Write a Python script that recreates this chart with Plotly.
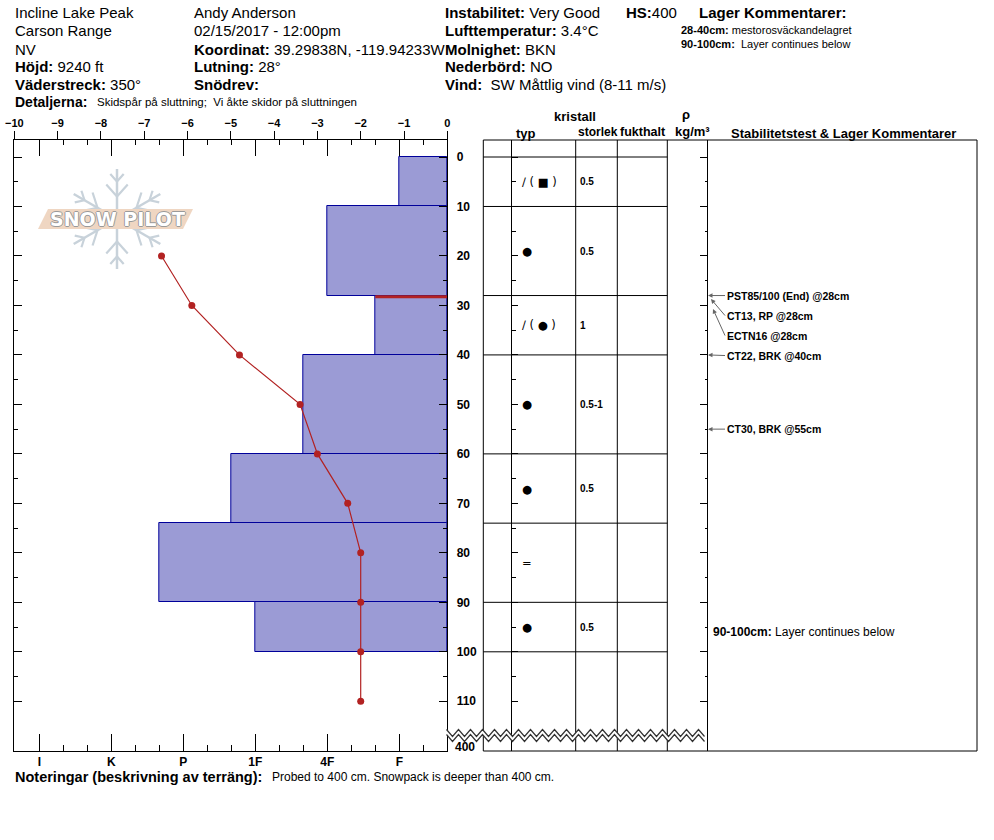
import math
import plotly.graph_objects as go

W, H = 994, 840
FONT = "Liberation Sans, Arial, sans-serif"

# ---------------- data ----------------
layer_top = [0, 10, 28, 40, 60, 74, 90]
layer_bottom = [10, 28, 40, 60, 74, 90, 100]
layer_hardness = ["F", "4F", "F+", "4F+", "1F+", "P+", "1F"]
grain_type = ["∕ ( ■ )", "●", "∕ ( ● )", "●", "●", "=", "●"]
grain_size = ["0.5", "0.5", "1", "0.5-1", "0.5", "", "0.5"]

temp_depth = [20, 30, 40, 50, 60, 70, 80, 90, 100, 110]
temp_value = [-6.6, -5.9, -4.8, -3.4, -3.0, -2.3, -2.0, -2.0, -2.0, -2.0]

concern_depth = 28

test_labels = ["PST85/100 (End) @28cm", "CT13, RP @28cm", "ECTN16 @28cm",
               "CT22, BRK @40cm", "CT30, BRK @55cm"]
test_depths = [28, 28, 28, 40, 55]

temp_ticks = [-10, -9, -8, -7, -6, -5, -4, -3, -2, -1, 0]
hard_labels = ["I", "K", "P", "1F", "4F", "F"]
hard_scale = ["I+", "I", "I-", "K+", "K", "K-", "P+", "P", "P-", "1F+", "1F", "1F-",
              "4F+", "4F", "4F-", "F+", "F", "F-"]
depth_ticks = [0, 10, 20, 30, 40, 50, 60, 70, 80, 90, 100, 110]
depth_minor = [5, 15, 25, 35, 45, 55, 65, 75, 85, 95, 105]
total_depth_label = "400"

# hardness code -> index (F- = 1 ... I+ = 18)
HIDX = {c: len(hard_scale) - i for i, c in enumerate(hard_scale)}
hard_major_vals = [HIDX[c] for c in hard_labels]
hard_minor_vals = [HIDX[c] for c in hard_scale if c not in hard_labels and HIDX[c] < 18]


def X(px):
    return px / W


def Y(py):
    return 1 - py / H


# geometry (pixels)
PL, PR = 14.3, 447.3
PT, PB = 140.0, 751.0
D0, PXCM = 157.0, 4.948
yr = [(PB - D0) / PXCM, (PT - D0) / PXCM]
hr = [(PR - PL) / 24.0, 0]
dom_x = [X(PL), X(PR)]
dom_y = [Y(PB), Y(PT)]

fig = go.Figure()

# dummy traces to register all axes
for xa, ya in [("x3", "y"), ("x", "y2"), ("x", "y3"), ("x", "y4")]:
    fig.add_trace(go.Scatter(x=[None], y=[None], xaxis=xa, yaxis=ya,
                             showlegend=False, hoverinfo="skip"))

centers = [(a + b) / 2 for a, b in zip(layer_top, layer_bottom)]
thick = [b - a for a, b in zip(layer_top, layer_bottom)]
fig.add_trace(go.Bar(
    x=[HIDX[h] for h in layer_hardness], y=centers, width=thick, orientation="h",
    marker=dict(color="#9b9bd5", line=dict(color="#00009a", width=1)),
    xaxis="x", yaxis="y", showlegend=False, hoverinfo="skip"))

ci = layer_top.index(concern_depth)
fig.add_trace(go.Scatter(
    x=[0, HIDX[layer_hardness[ci]]], y=[concern_depth + 0.25, concern_depth + 0.25],
    mode="lines", line=dict(color="#b22222", width=3),
    xaxis="x", yaxis="y", showlegend=False, hoverinfo="skip"))

fig.add_trace(go.Scatter(
    x=temp_value, y=temp_depth, mode="lines+markers",
    line=dict(color="#b22222", width=1.2), marker=dict(color="#b22222", size=7),
    xaxis="x2", yaxis="y", showlegend=False, hoverinfo="skip"))

shapes = []
ann = []


def note(x, y, text, size=15, xanchor="left", yanchor="middle", yref="paper", family=FONT, **kw):
    ann.append(dict(x=X(x), y=(Y(y) if yref == "paper" else y), xref="paper", yref=yref,
                    text=text, showarrow=False, xanchor=xanchor, yanchor=yanchor,
                    font=dict(size=size, color="black", family=family), **kw))


def line(x0, y0, x1, y1, color="black", width=1, yref="paper", layer="above"):
    shapes.append(dict(type="line", xref="paper", yref=yref,
                       x0=X(x0), x1=X(x1),
                       y0=(Y(y0) if yref == "paper" else y0),
                       y1=(Y(y1) if yref == "paper" else y1),
                       line=dict(color=color, width=width), layer=layer))


# ---------------- logo ----------------
cx, cy, L = 117, 219, 50
flake = "#c8d2da"
for ang in [90, 30, -30, -90, -150, 150]:
    ux, uy = math.cos(math.radians(ang)), -math.sin(math.radians(ang))
    line(cx + ux * 5, cy + uy * 5, cx + ux * L, cy + uy * L, flake, 2.5, layer="below")
    for d, b in [(0.45, 16), (0.75, 10)]:
        px, py = cx + ux * L * d, cy + uy * L * d
        for s in (1, -1):
            a2 = math.radians(ang + s * 42)
            line(px, py, px + math.cos(a2) * b, py - math.sin(a2) * b, flake, 2.2, layer="below")
shapes.append(dict(type="path", xref="paper", yref="paper", layer="below",
                   path="M %f %f L %f %f L %f %f L %f %f Z" % (
                       X(38), Y(229), X(48), Y(209), X(193), Y(209), X(183), Y(229)),
                   fillcolor="#efd6c2", line=dict(width=0)))
ann.append(dict(x=X(117), y=Y(219.5), xref="paper", yref="paper", text="SNOW PILOT",
                showarrow=False, xanchor="center", yanchor="middle",
                font=dict(size=19, color="white", family="DejaVu Sans", weight="bold",
                          shadow="1px 0 0 #9a9a9a, -1px 0 0 #9a9a9a, 0 1px 0 #9a9a9a, 0 -1px 0 #9a9a9a")))

# ---------------- header ----------------
col1 = ["Incline Lake Peak", "Carson Range", "NV", "<b>Höjd:</b> 9240 ft", "<b>Väderstreck:</b> 350°"]
col2 = ["Andy Anderson", "02/15/2017 - 12:00pm", "<b>Koordinat:</b> 39.29838N, -119.94233W",
        "<b>Lutning:</b> 28°", "<b>Snödrev:</b>"]
col3 = ["<b>Instabilitet:</b> Very Good", "<b>Lufttemperatur:</b> 3.4°C", "<b>Molnighet:</b> BKN",
        "<b>Nederbörd:</b> NO", "<b>Vind:</b>  SW Måttlig vind (8-11 m/s)"]
for i in range(5):
    yy = 13 + 18 * i
    note(13, yy, col1[i])
    note(192, yy, col2[i])
    note(443, yy, col3[i])
note(624, 13, "<b>HS:</b>400")
note(697, 13, "<b>Lager Kommentarer:</b>")
note(679, 30, "<b>28-40cm:</b> mestorosväckandelagret", size=11)
note(679, 44, "<b>90-100cm:</b>  Layer continues below", size=11)
note(13, 102, "<b>Detaljerna:</b>", size=14)
note(95, 102, "Skidspår på sluttning;  Vi åkte skidor på sluttningen", size=11.5)

# table header
note(575, 117, "<b>kristall</b>", size=13, xanchor="center")
note(526, 133, "<b>typ</b>", size=13, xanchor="center")
note(577, 132, "<b>storlek</b>", size=12, borderpad=0)
note(619, 132, "<b>fukthalt</b>", size=12.5, borderpad=0)
note(686, 115, "<b>ρ</b>", size=13, xanchor="center")
note(692, 131, "<b>kg/m³</b>", size=13, xanchor="center")
note(843, 133, "<b>Stabilitetstest &amp; Lager Kommentarer</b>", size=13, xanchor="center")

# ---------------- table ----------------
TL, TR = 483.3, 977.0
for cxp in [TL, 575.7, 617.3, 667.3, TR]:
    line(cxp, PT, cxp, PB)
line(TL, PT, TR, PT)
line(TL, PB, TR, PB)
for d in sorted(set(layer_top + layer_bottom)):
    line(TL, d, 667.3, d, yref="y")
for i, c in enumerate(centers):
    note(520, c, grain_type[i], size=11.5, yref="y", family="DejaVu Sans")
    if grain_size[i]:
        note(578, c, "<b>%s</b>" % grain_size[i], size=10, yref="y")

# stability tests
head_dx = [0, 3, 5, 0, 0]
head_dy = [0, 3.5, 13.5, 0, 0]
prev = -100
for i, (lab, dep) in enumerate(zip(test_labels, test_depths)):
    dpx = D0 + dep * PXCM
    ty = max(dpx, prev + 20)
    prev = ty
    hx = 708 + head_dx[i]
    hy = dpx + head_dy[i]
    ann.append(dict(x=X(hx), y=dep, xref="paper", yref="y", yshift=-head_dy[i],
                    ax=725 - hx, ay=ty - hy, axref="pixel", ayref="pixel",
                    text="<b>%s</b>" % lab, showarrow=True, arrowhead=2, arrowsize=0.9,
                    arrowwidth=1, arrowcolor="#666666", xanchor="left", yanchor="middle",
                    font=dict(size=10.5, color="black", family=FONT)))
note(711, 95, "<b>90-100cm:</b> Layer continues below", size=12, yref="y", yshift=-5)

# depth "400" label
note(465, 747, "<b>%s</b>" % total_depth_label, size=12, xanchor="center")

# zigzag break
zx0, zx1, zy, amp, per, gap = 446.5, 707.3, 729.5, 7.0, 12.0, 5.0
pts = []
xx = zx0
k = 0
while xx <= zx1 + 0.01:
    pts.append((xx, zy + (amp if k % 2 else 0)))
    xx += per / 2
    k += 1
up = " ".join(("M" if j == 0 else "L") + " %f %f" % (X(a), Y(b)) for j, (a, b) in enumerate(pts))
lo_pts = [(a, b + gap) for a, b in pts]
lo = " ".join(("M" if j == 0 else "L") + " %f %f" % (X(a), Y(b)) for j, (a, b) in enumerate(lo_pts))
band = up + " " + " ".join("L %f %f" % (X(a), Y(b)) for a, b in reversed(lo_pts)) + " Z"
shapes.append(dict(type="path", xref="paper", yref="paper", path=band,
                   fillcolor="white", line=dict(width=0), layer="above"))
for pth in (up, lo):
    shapes.append(dict(type="path", xref="paper", yref="paper", path=pth,
                       line=dict(color="#333333", width=1.2), layer="above"))

# footer
note(13, 777, "<b>Noteringar (beskrivning av terräng):</b>", size=14.5)
note(270, 777, "Probed to 400 cm. Snowpack is deeper than 400 cm.", size=12)

axis_common = dict(showgrid=False, zeroline=False, linecolor="black", tickcolor="black",
                   automargin=False)

fig.update_layout(
    width=W, height=H, margin=dict(l=0, r=0, t=0, b=0, pad=0, autoexpand=False),
    paper_bgcolor="white", plot_bgcolor="rgba(0,0,0,0)", showlegend=False,
    bargap=0,
    xaxis=dict(domain=dom_x, range=hr, anchor="y", side="bottom", showline=True,
               ticks="inside", ticklen=17, tickvals=hard_major_vals, ticktext=hard_labels,
               tickfont=dict(size=12, weight="bold", family=FONT, color="black"),
               minor=dict(tickvals=hard_minor_vals, ticks="inside", ticklen=6, tickcolor="black"),
               **axis_common),
    xaxis2=dict(domain=dom_x, range=[-10, 0], anchor="y", overlaying="x", side="top",
                showline=True, ticks="outside", ticklen=8, tickvals=temp_ticks,
                tickfont=dict(size=11, weight="bold", family=FONT, color="black"),
                **axis_common),
    xaxis3=dict(domain=dom_x, range=hr, anchor="y", overlaying="x", side="top",
                showline=False, ticks="inside", ticklen=16, tickvals=hard_major_vals,
                showticklabels=False,
                minor=dict(tickvals=hard_minor_vals, ticks="inside", ticklen=5, tickcolor="black"),
                **axis_common),
    yaxis=dict(domain=dom_y, range=yr, anchor="x", side="left", showline=True,
               ticks="inside", ticklen=8, tickvals=depth_ticks, showticklabels=False,
               minor=dict(tickvals=depth_minor, ticks="inside", ticklen=4, tickcolor="black"),
               **axis_common),
    yaxis2=dict(domain=dom_y, range=yr, anchor="x", overlaying="y", side="right",
                showline=True, ticks="inside", ticklen=8, tickvals=depth_ticks,
                ticklabelstandoff=6,
                tickfont=dict(size=12, weight="bold", family=FONT, color="black"),
                minor=dict(tickvals=depth_minor, ticks="inside", ticklen=4, tickcolor="black"),
                **axis_common),
    yaxis3=dict(domain=dom_y, range=yr, anchor="free", position=X(511.3), overlaying="y",
                side="left", showline=True, ticks="inside", ticklen=6, tickvals=depth_ticks,
                showticklabels=False,
                minor=dict(tickvals=depth_minor, ticks="inside", ticklen=3.5, tickcolor="black"),
                **axis_common),
    yaxis4=dict(domain=dom_y, range=yr, anchor="free", position=X(707.3), overlaying="y",
                side="right", showline=True, ticks="inside", ticklen=7, tickvals=depth_ticks,
                showticklabels=False,
                minor=dict(tickvals=depth_minor, ticks="inside", ticklen=2.5, tickcolor="black"),
                **axis_common),
    shapes=shapes, annotations=ann,
)

fig.write_html("out.html", config={"displayModeBar": False},
               post_script="document.body.style.margin='0';document.body.style.overflow='hidden';")
